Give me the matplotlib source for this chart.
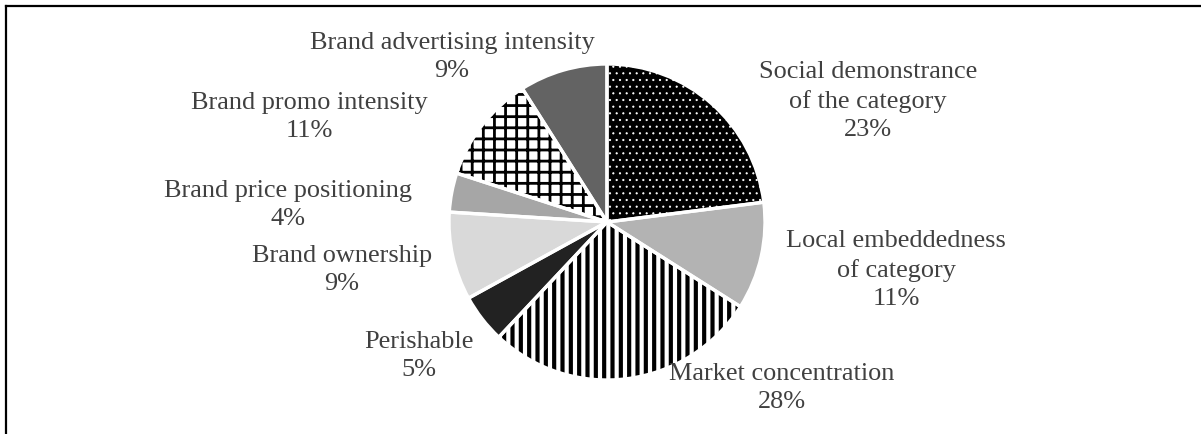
import matplotlib
matplotlib.use("Agg")
import matplotlib.pyplot as plt
from matplotlib.lines import Line2D

plt.rcParams['font.family'] = ['Liberation Serif', 'DejaVu Serif']

# share of each driver, clockwise from 12 o'clock
labels = ['Social demonstrance\nof the category', 'Local embeddedness\nof category',
          'Market concentration', 'Perishable', 'Brand ownership',
          'Brand price positioning', 'Brand promo intensity',
          'Brand advertising intensity']
shares = [23, 11, 28, 5, 9, 4, 11, 9]

faces = ['black', '#b3b3b3', 'white', '#222222', '#d9d9d9', '#a6a6a6', 'white', '#636363']
hatches = ['.....', None, '||||', None, None, None, '+++', None]
hatch_cols = ['white', None, 'black', None, None, None, 'black', None]
hatch_lws = [0.3, None, 1.5, None, None, None, 1.0, None]

# label anchor points in pixels (x from left, y from top)
label_xy = [(868, 101), (896, 270), (782, 388), (419, 356),
            (342, 270), (288, 205), (309, 117), (452, 57)]

W, H = 1201, 434
DPI = 200
fig = plt.figure(figsize=(W / DPI, H / DPI), dpi=DPI)
ax = fig.add_axes([0, 0, 1, 1])

centre = (607, H - 222)
rad = 158

wedges, _ = ax.pie(shares, colors=faces, startangle=90, counterclock=False,
                   center=centre, radius=rad, wedgeprops=dict(linewidth=0))
for w, h, hc, hl in zip(wedges, hatches, hatch_cols, hatch_lws):
    if h:
        w.set_hatch(h)
        w.set_edgecolor(hc)
        w.set_linewidth(0)
        if hasattr(w, 'set_hatch_linewidth'):
            w.set_hatch_linewidth(hl)

# white separators between slices
ax.pie(shares, colors=['none'] * len(shares), startangle=90, counterclock=False,
       center=centre, radius=rad,
       wedgeprops=dict(fill=False, edgecolor='white', linewidth=1.2))

for lab, v, (x, y) in zip(labels, shares, label_xy):
    ax.text(x, H - y, f"{lab}\n{v}%", ha='center', va='center',
            fontsize=9.45, color='#404040', linespacing=1.35)

ax.set_xlim(0, W)
ax.set_ylim(0, H)
ax.set_aspect('equal')
ax.axis('off')

# chart frame (left and top edges)
fig.add_artist(Line2D([6 / W, 6 / W], [0, 1 - 6 / H], transform=fig.transFigure,
                      color='black', lw=0.8))
fig.add_artist(Line2D([6 / W, 1], [1 - 6 / H, 1 - 6 / H], transform=fig.transFigure,
                      color='black', lw=0.8))

fig.savefig('out.png', dpi=DPI, facecolor='white')
